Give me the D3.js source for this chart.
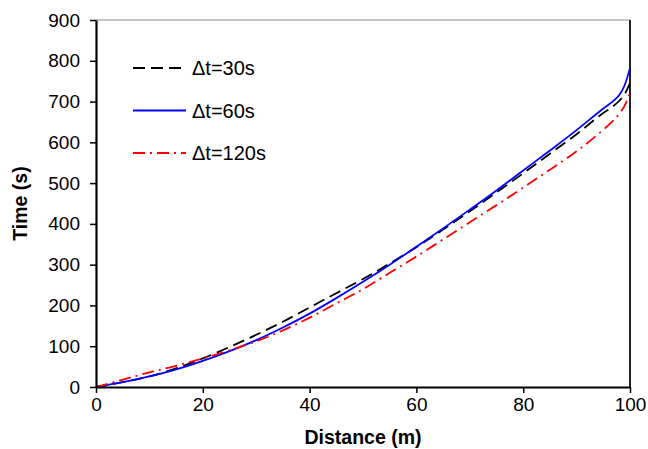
<!DOCTYPE html>
<html>
<head>
<meta charset="utf-8">
<script src="https://cdn.jsdelivr.net/npm/d3@7"></script>
<style>
  body { margin: 0; background: #fff; }
  svg { display: block; font-family: "Liberation Sans", Arial, sans-serif; }
</style>
</head>
<body>
<div id="viz"></div>
<script>
const distance = [0, 5, 10, 15, 20, 25, 30, 35, 40, 45, 50, 55, 60, 65, 70, 75, 80, 85, 90, 95, 97, 98, 99, 100];
const dt30 = [0, 12, 26, 46, 70, 98, 128, 160, 195, 230, 265, 303, 343, 386, 431, 477, 524, 572, 620, 672, 690, 702, 718, 745];
const dt60 = [0, 12, 26, 43, 64, 88, 115, 146, 180, 218, 258, 300, 344, 389, 435, 482, 531, 580, 630, 683, 703, 716, 740, 782];
const dt120 = [0, 18, 36, 52, 70, 90, 112, 139, 170, 205, 240, 280, 320, 362, 404, 446, 489, 533, 578, 631, 655, 670, 690, 722];
const xTicks = [0, 20, 40, 60, 80, 100];
const yTicks = [0, 100, 200, 300, 400, 500, 600, 700, 800, 900];

const series = [
  { label: 'Δt=30s', values: dt30, color: '#000', dash: '12,6' },
  { label: 'Δt=60s', values: dt60, color: '#0000ff', dash: null },
  { label: 'Δt=120s', values: dt120, color: '#ff0000', dash: '12,5,2,5' }
];

const W = 648, H = 449;
const margin = { top: 20, right: 18, bottom: 62, left: 96 };
const width = W - margin.left - margin.right;
const height = H - margin.top - margin.bottom;

const svg = d3.select('#viz').append('svg')
  .attr('width', W).attr('height', H);
const g = svg.append('g')
  .attr('transform', `translate(${margin.left},${margin.top})`);

const x = d3.scaleLinear().domain([0, 100]).range([0, width]);
const y = d3.scaleLinear().domain([0, 900]).range([height, 0]);

// frame: thin top, darker right
g.append('line')
  .attr('x1', 0).attr('x2', width).attr('y1', 0).attr('y2', 0)
  .attr('stroke', '#888').attr('stroke-width', 1.2);
g.append('line')
  .attr('x1', width).attr('x2', width).attr('y1', 0).attr('y2', height)
  .attr('stroke', '#222').attr('stroke-width', 2);

const line = vals => d3.line()
  .x((d, i) => x(distance[i]))
  .y(d => y(d))
  .curve(d3.curveMonotoneX)(vals);

series.forEach(s => {
  g.append('path')
    .attr('d', line(s.values))
    .attr('fill', 'none')
    .attr('stroke', s.color)
    .attr('stroke-width', 1.8)
    .attr('stroke-dasharray', s.dash);
});

const xAxis = g.append('g')
  .attr('transform', `translate(0,${height})`)
  .call(d3.axisBottom(x).tickValues(xTicks).tickSize(6).tickSizeOuter(0).tickPadding(5));
const yAxis = g.append('g')
  .call(d3.axisLeft(y).tickValues(yTicks).tickSize(6).tickSizeOuter(0).tickPadding(10));

[xAxis, yAxis].forEach(a => {
  a.select('.domain').attr('stroke', '#000').attr('stroke-width', 2.2);
  a.selectAll('.tick line').attr('stroke', '#000').attr('stroke-width', 1.5);
  a.selectAll('.tick text')
    .attr('fill', '#000')
    .style('font-size', '19px')
    .style('font-family', '"Liberation Sans", Arial, sans-serif');
});

svg.append('text')
  .attr('x', margin.left + width / 2)
  .attr('y', 444)
  .attr('text-anchor', 'middle')
  .style('font-size', '19.5px').style('font-weight', 'bold')
  .text('Distance (m)');
svg.append('text')
  .attr('transform', `translate(27,${margin.top + height / 2}) rotate(-90)`)
  .attr('text-anchor', 'middle')
  .style('font-size', '19.5px').style('font-weight', 'bold')
  .text('Time (s)');

const legend = g.append('g').attr('transform', 'translate(37,48)');
series.forEach((s, i) => {
  const row = legend.append('g').attr('transform', `translate(0,${i * 42.5})`);
  row.append('line')
    .attr('x1', 0).attr('x2', 53).attr('y1', 0).attr('y2', 0)
    .attr('stroke', s.color).attr('stroke-width', 1.8)
    .attr('stroke-dasharray', s.dash);
  row.append('text')
    .attr('x', 59).attr('y', 7)
    .style('font-size', '20px')
    .text(s.label);
});
</script>
</body>
</html>
